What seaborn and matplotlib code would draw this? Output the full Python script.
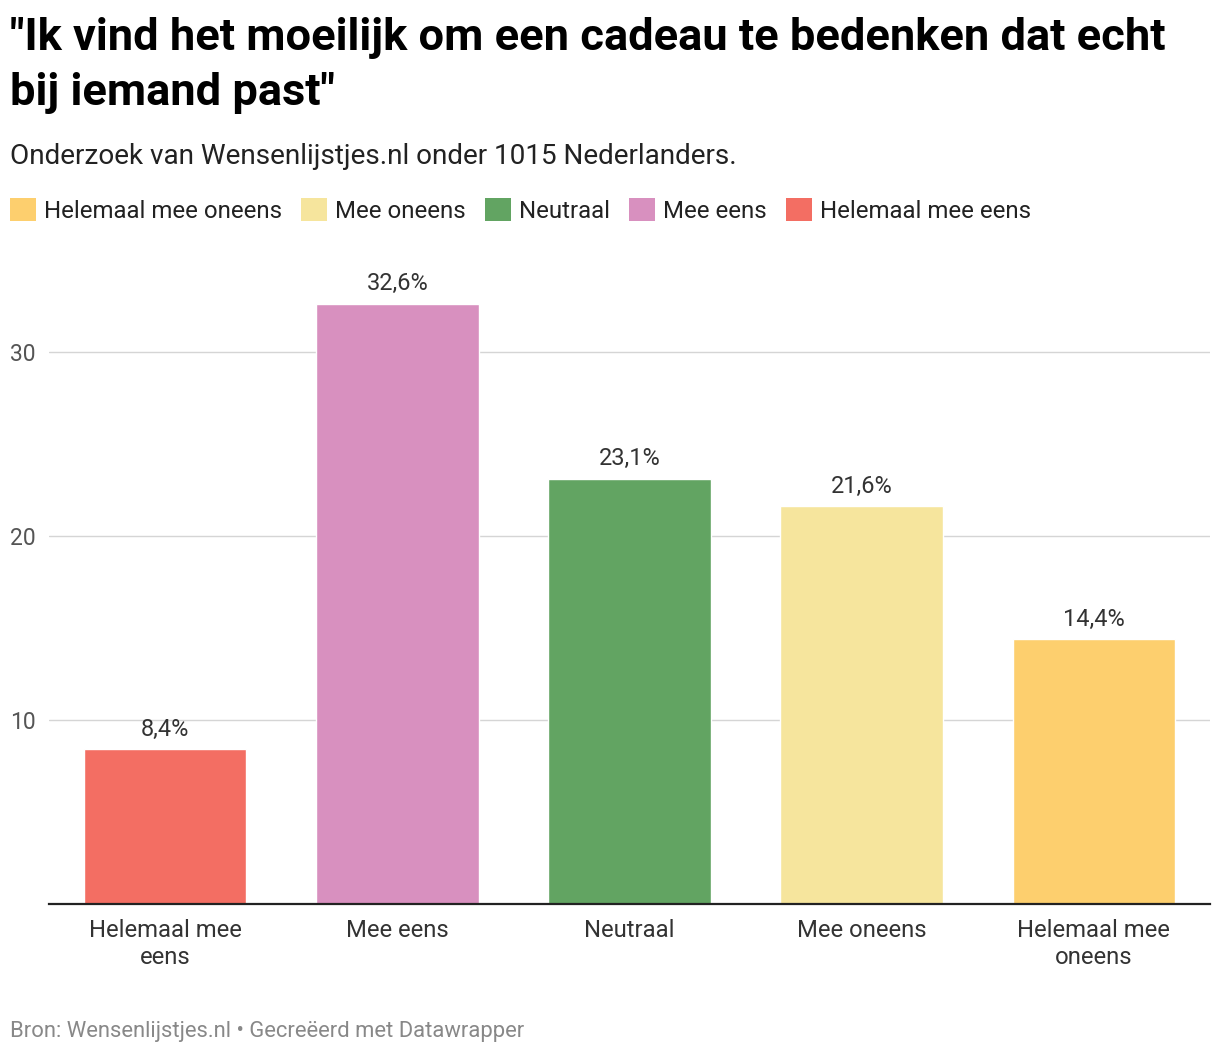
import matplotlib
matplotlib.use("Agg")
import matplotlib.pyplot as plt
from matplotlib.patches import Patch
import seaborn as sns
import pandas as pd

# Data
categories = ["Helemaal mee\neens", "Mee eens", "Neutraal", "Mee oneens", "Helemaal mee\noneens"]
values = [8.4, 32.6, 23.1, 21.6, 14.4]
bar_colors = ["#f36e63", "#d890bf", "#62a462", "#f6e59d", "#fdcf6e"]
legend_labels = ["Helemaal mee oneens", "Mee oneens", "Neutraal", "Mee eens", "Helemaal mee eens"]
legend_colors = ["#fdcf6e", "#f6e59d", "#62a462", "#d890bf", "#f36e63"]
yticks = [10, 20, 30]

df = pd.DataFrame({"cat": categories, "val": values})

sns.set_style("white")
plt.rcParams["font.family"] = ["Roboto", "DejaVu Sans"]

fig = plt.figure(figsize=(12.2, 10.54), dpi=100)
W, H = 1220, 1054
ax = fig.add_axes([49 / W, 1 - 904 / H, (1210 - 49) / W, (904 - 278) / H])

sns.barplot(data=df, x="cat", y="val", hue="cat", palette=bar_colors,
            legend=False, width=0.70, ax=ax, saturation=1)

ax.set_xlim(-0.5, 4.5)
ax.set_ylim(0, 34)
ax.set_yticks(yticks)
ax.set_yticklabels([str(t) for t in yticks])
ax.yaxis.grid(True, color="#d5d5d5", linewidth=1)
ax.set_axisbelow(True)
for s in ["top", "right", "left"]:
    ax.spines[s].set_visible(False)
ax.spines["bottom"].set_color("#222222")
ax.spines["bottom"].set_linewidth(1.6)
ax.set_xlabel("")
ax.set_ylabel("")
ax.tick_params(axis="y", length=0, labelsize=16.5, labelcolor="#555555", pad=0)
ax.tick_params(axis="x", length=0, labelsize=17.2, labelcolor="#333333", pad=11)
for lbl in ax.get_xticklabels():
    lbl.set_linespacing(1.22)
for lbl in ax.get_yticklabels():
    lbl.set_horizontalalignment("left")
    lbl.set_x(-39 / (1210 - 49))

for cont in ax.containers:
    ax.bar_label(cont, labels=[f"{v:.1f}%".replace(".", ",") for v in cont.datavalues],
                 padding=6, fontsize=16.9, color="#333333")

# Title, subtitle
fig.text(10 / W, 1 - 17 / H, "\"Ik vind het moeilijk om een cadeau te bedenken dat echt\nbij iemand past\"",
         fontsize=32.6, fontweight="bold", color="#000000", va="top", ha="left", linespacing=1.38)
fig.text(10 / W, 1 - 143 / H, "Onderzoek van Wensenlijstjes.nl onder 1015 Nederlanders.",
         fontsize=20.1, color="#222222", va="top", ha="left")

handles = [Patch(facecolor=c, edgecolor="none") for c in legend_colors]
fig.legend(handles, legend_labels, loc="upper left", bbox_to_anchor=(10 / W, 1 - 198 / H),
           ncol=5, frameon=False, fontsize=17.3, handlelength=1.08, handleheight=1.08,
           handletextpad=0.33, columnspacing=0.8, labelcolor="#222222",
           borderpad=0, borderaxespad=0)

fig.text(10 / W, 1 - 1031 / H, "Bron: Wensenlijstjes.nl \u2022 Gecre\u00eberd met Datawrapper",
         fontsize=15.8, color="#888888", va="center", ha="left")

fig.savefig("out.png", dpi=100, facecolor="white")
